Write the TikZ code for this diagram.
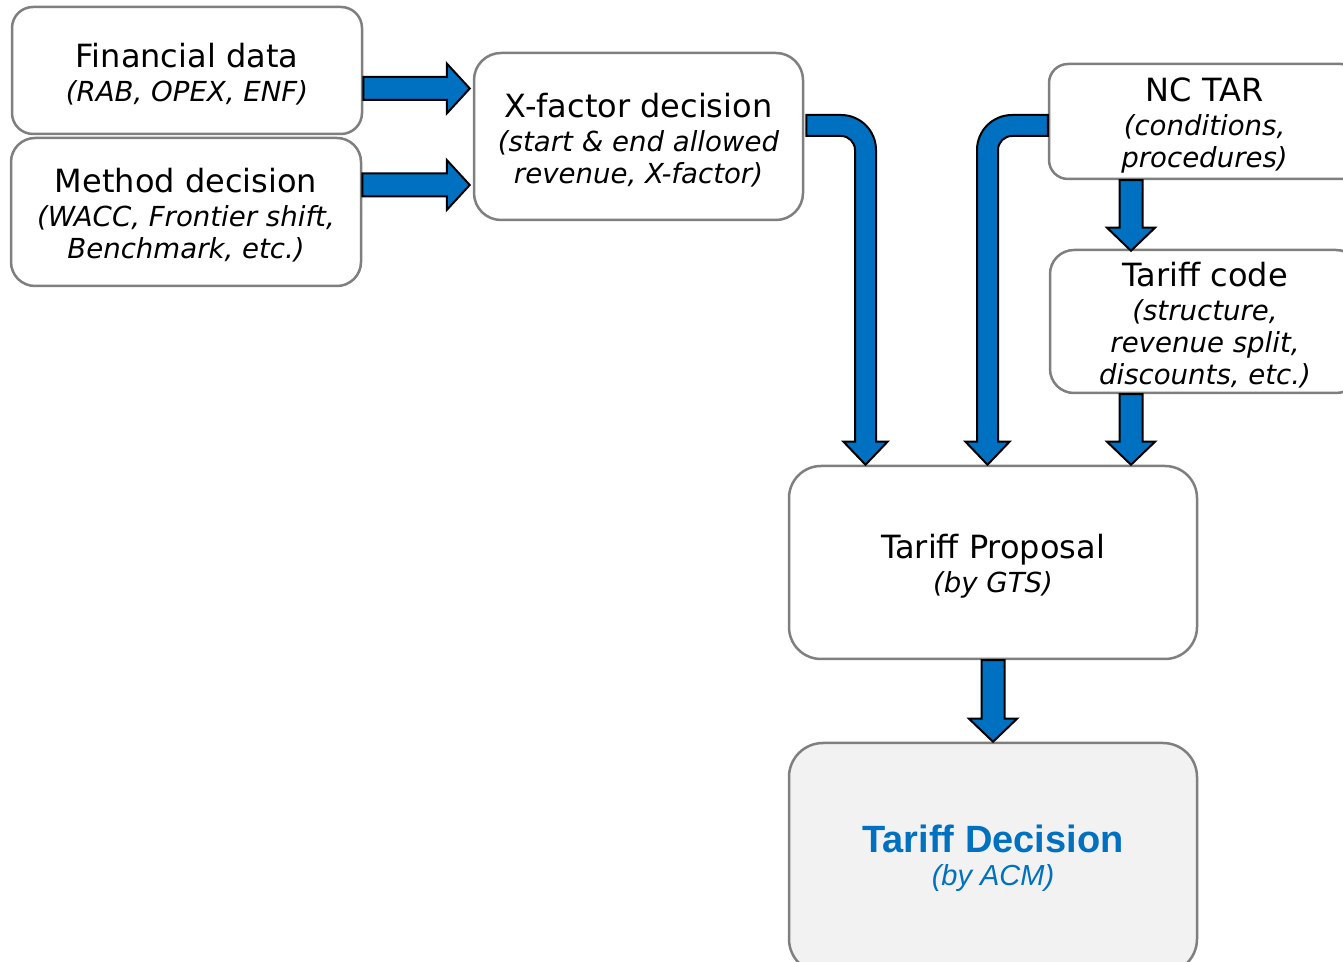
\documentclass[tikz,border=0pt]{standalone}
\usepackage{fontspec}
\setmainfont{DejaVu Sans}
\newfontfamily\arialf{Liberation Sans}
\usetikzlibrary{calc}

\definecolor{acmblue}{HTML}{0070C0}
\definecolor{boxline}{HTML}{7F7F7F}
\definecolor{boxfill}{HTML}{F2F2F2}

\newcommand\subf{\fontsize{27.6}{32}\selectfont\itshape}
% box heading, with a strut that sets the text a little lower in its box
\newcommand\ttl[1]{{\fontsize{32}{36}\selectfont\upshape\rule{0pt}{31pt}#1}}

% straight block arrows: shaft centred on the x (down) or y (right) of the start point
\newcommand\rightblock[2]{%
  \draw[blk] let \p1=(#1), \p2=(#2) in
    (\x1,\y1+11.5pt) -- (\x2-23pt,\y1+11.5pt) -- (\x2-23pt,\y1+25pt) -- (\x2,\y1)
    -- (\x2-23pt,\y1-25pt) -- (\x2-23pt,\y1-11.5pt) -- (\x1,\y1-11.5pt) -- cycle;}
\newcommand\downblock[2]{%
  \draw[blk] let \p1=(#1), \p2=(#2) in
    (\x1-11.5pt,\y1) -- (\x1-11.5pt,\y2+23pt) -- (\x1-24pt,\y2+23pt) -- (\x1,\y2)
    -- (\x1+24pt,\y2+23pt) -- (\x1+11.5pt,\y2+23pt) -- (\x1+11.5pt,\y1) -- cycle;}
% bent block arrows: horizontal from the start point, then down to the tip
\newcommand\bendright[2]{%
  \draw[blk] let \p1=(#1), \p2=(#2) in
    (\x1,\y1+10.5pt) -- (\x2-24.5pt,\y1+10.5pt) arc[start angle=90,end angle=0,radius=35]
    -- (\x2+10.5pt,\y2+23pt) -- (\x2+22pt,\y2+23pt) -- (\x2,\y2) -- (\x2-22pt,\y2+23pt)
    -- (\x2-10.5pt,\y2+23pt) -- (\x2-10.5pt,\y1-24.5pt) arc[start angle=0,end angle=90,radius=14]
    -- (\x1,\y1-10.5pt) -- cycle;}
\newcommand\bendleft[2]{%
  \draw[blk] let \p1=(#1), \p2=(#2) in
    (\x1,\y1+10.5pt) -- (\x2+24.5pt,\y1+10.5pt) arc[start angle=90,end angle=180,radius=35]
    -- (\x2-10.5pt,\y2+23pt) -- (\x2-22pt,\y2+23pt) -- (\x2,\y2) -- (\x2+22pt,\y2+23pt)
    -- (\x2+10.5pt,\y2+23pt) -- (\x2+10.5pt,\y1-24.5pt) arc[start angle=180,end angle=90,radius=14]
    -- (\x1,\y1-10.5pt) -- cycle;}

\begin{document}
\begin{tikzpicture}[x=1pt,y=1pt,
  box/.style={draw=boxline, line width=2.5pt, fill=white, align=center,
    inner sep=0pt, font=\subf, text=black},
  blk/.style={fill=acmblue, draw=black, line width=2pt, line join=miter}]
\useasboundingbox (0,0) rectangle (1343,961);
\clip (0,0) rectangle (1343,961);

% input boxes
\node[box, minimum width=350pt, minimum height=127pt, rounded corners=21pt]
  (fin) at (187,890.5) {\ttl{Financial data}\\[2pt](RAB, OPEX, ENF)};
\node[box, minimum width=350pt, minimum height=148pt, rounded corners=24pt]
  (meth) at (186,749) {\ttl{Method decision}\\[2pt](WACC, Frontier shift,\\Benchmark, etc.)};
\node[box, minimum width=329pt, minimum height=167pt, rounded corners=27pt]
  (xf) at (638.5,824.5) {\ttl{X-factor decision}\\[2pt](start \& end allowed\\revenue, X-factor)};
\node[box, minimum width=311pt, minimum height=115pt, rounded corners=19pt]
  (nc) at (1204.5,839.5) {\ttl{NC TAR}\\[2pt](conditions,\\procedures)};
\node[box, minimum width=310pt, minimum height=143pt, rounded corners=24pt]
  (tc) at (1205,639.5) {\ttl{Tariff code}\\[2pt](structure,\\revenue split,\\discounts, etc.)};

% proposal and decision
\node[box, minimum width=408pt, minimum height=193pt, rounded corners=32pt]
  (tp) at (993,398.5) {\ttl{Tariff Proposal}\\[2pt](by GTS)};
\node[box, fill=boxfill, minimum width=408pt, minimum height=230pt, rounded corners=34pt,
  font=\arialf\fontsize{29}{33}\selectfont\itshape, text=acmblue]
  (td) at (993,103) {{\fontsize{38}{42}\selectfont\bfseries\upshape Tariff Decision}\\(by ACM)};

% block arrows
\rightblock{$(fin.east)+(0,-18)$}{$(xf.west)+(-3,0)$}
\rightblock{$(meth.east)+(0,27)$}{$(xf.west)+(-3,0)$}
\bendright{$(xf.east)+(2,11)$}{$(tp.north)+(-127.5,0)$}
\bendleft{$(nc.west)+(0,-4)$}{$(tp.north)+(-5.5,0)$}
\downblock{$(nc.south)+(-73.5,0)$}{$(tc.north)+(0,-2)$}
\downblock{$(tc.south)+(-74,0)$}{tp.north}
\downblock{tp.south}{td.north}
\end{tikzpicture}
\end{document}
